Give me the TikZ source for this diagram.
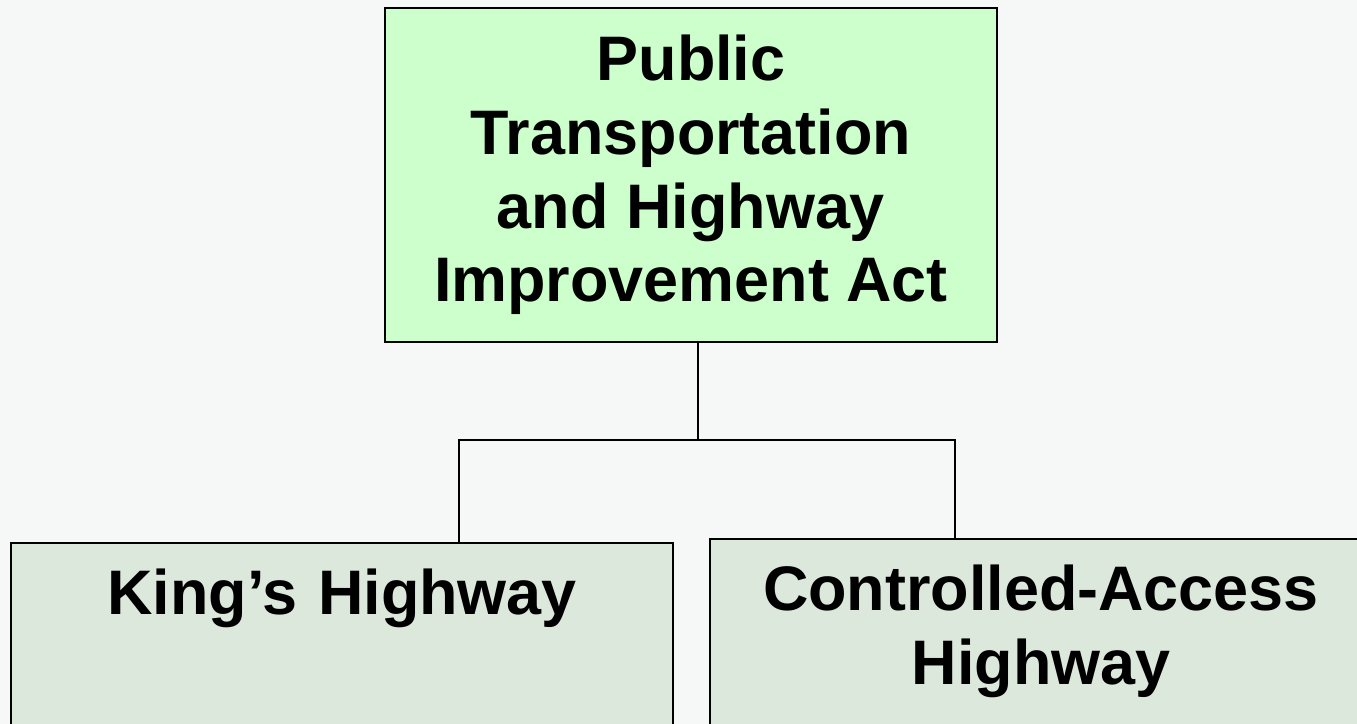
\documentclass[tikz,border=0pt]{standalone}
\usepackage{fontspec}
\setmainfont{Liberation Sans}
\usetikzlibrary{positioning}
\definecolor{actfill}{RGB}{204,255,204}
\definecolor{hwyfill}{RGB}{221,232,221}
\definecolor{pagebg}{RGB}{246,248,247}
\tikzstyle{box}=[draw=black, line width=.6pt, rectangle, align=center, font=\bfseries\fontsize{17.9}{21}\selectfont]
\tikzset{act/.style={box, fill=actfill, minimum width=6.12cm, minimum height=3.34cm, inner sep=0pt}}
\tikzset{hwy/.style={box, fill=hwyfill, anchor=north, text width=6.62cm, inner xsep=0pt, inner ysep=.26cm, text depth=2cm}}
\tikzset{link/.style={line width=.5pt}}
\tikzset{x=.1mm}
\tikzset{y=-.1mm}
\begin{document}
\begin{tikzpicture}
  \fill[pagebg] (0,0) rectangle (1357,724);
  \useasboundingbox (0,0) rectangle (1357,724);

  \node[act] (act) at (691,175) {Public\\Transportation\\and Highway\\Improvement Act};

  \node[hwy] (kings) at (342,542) {King’s Highway};
  \node[hwy] (ca) at (1041,538) {Controlled-Access\\Highway};

  %% tree lines
  \coordinate (junct) at (698,440);
  \coordinate (kjoin) at (459,440);
  \coordinate (cjoin) at (955,440);
  \draw[link] (act.south -| junct) -- (junct);
  \draw[link] (kings.north -| kjoin) -- (kjoin) -- (cjoin) -- (ca.north -| cjoin);
\end{tikzpicture}
\end{document}
